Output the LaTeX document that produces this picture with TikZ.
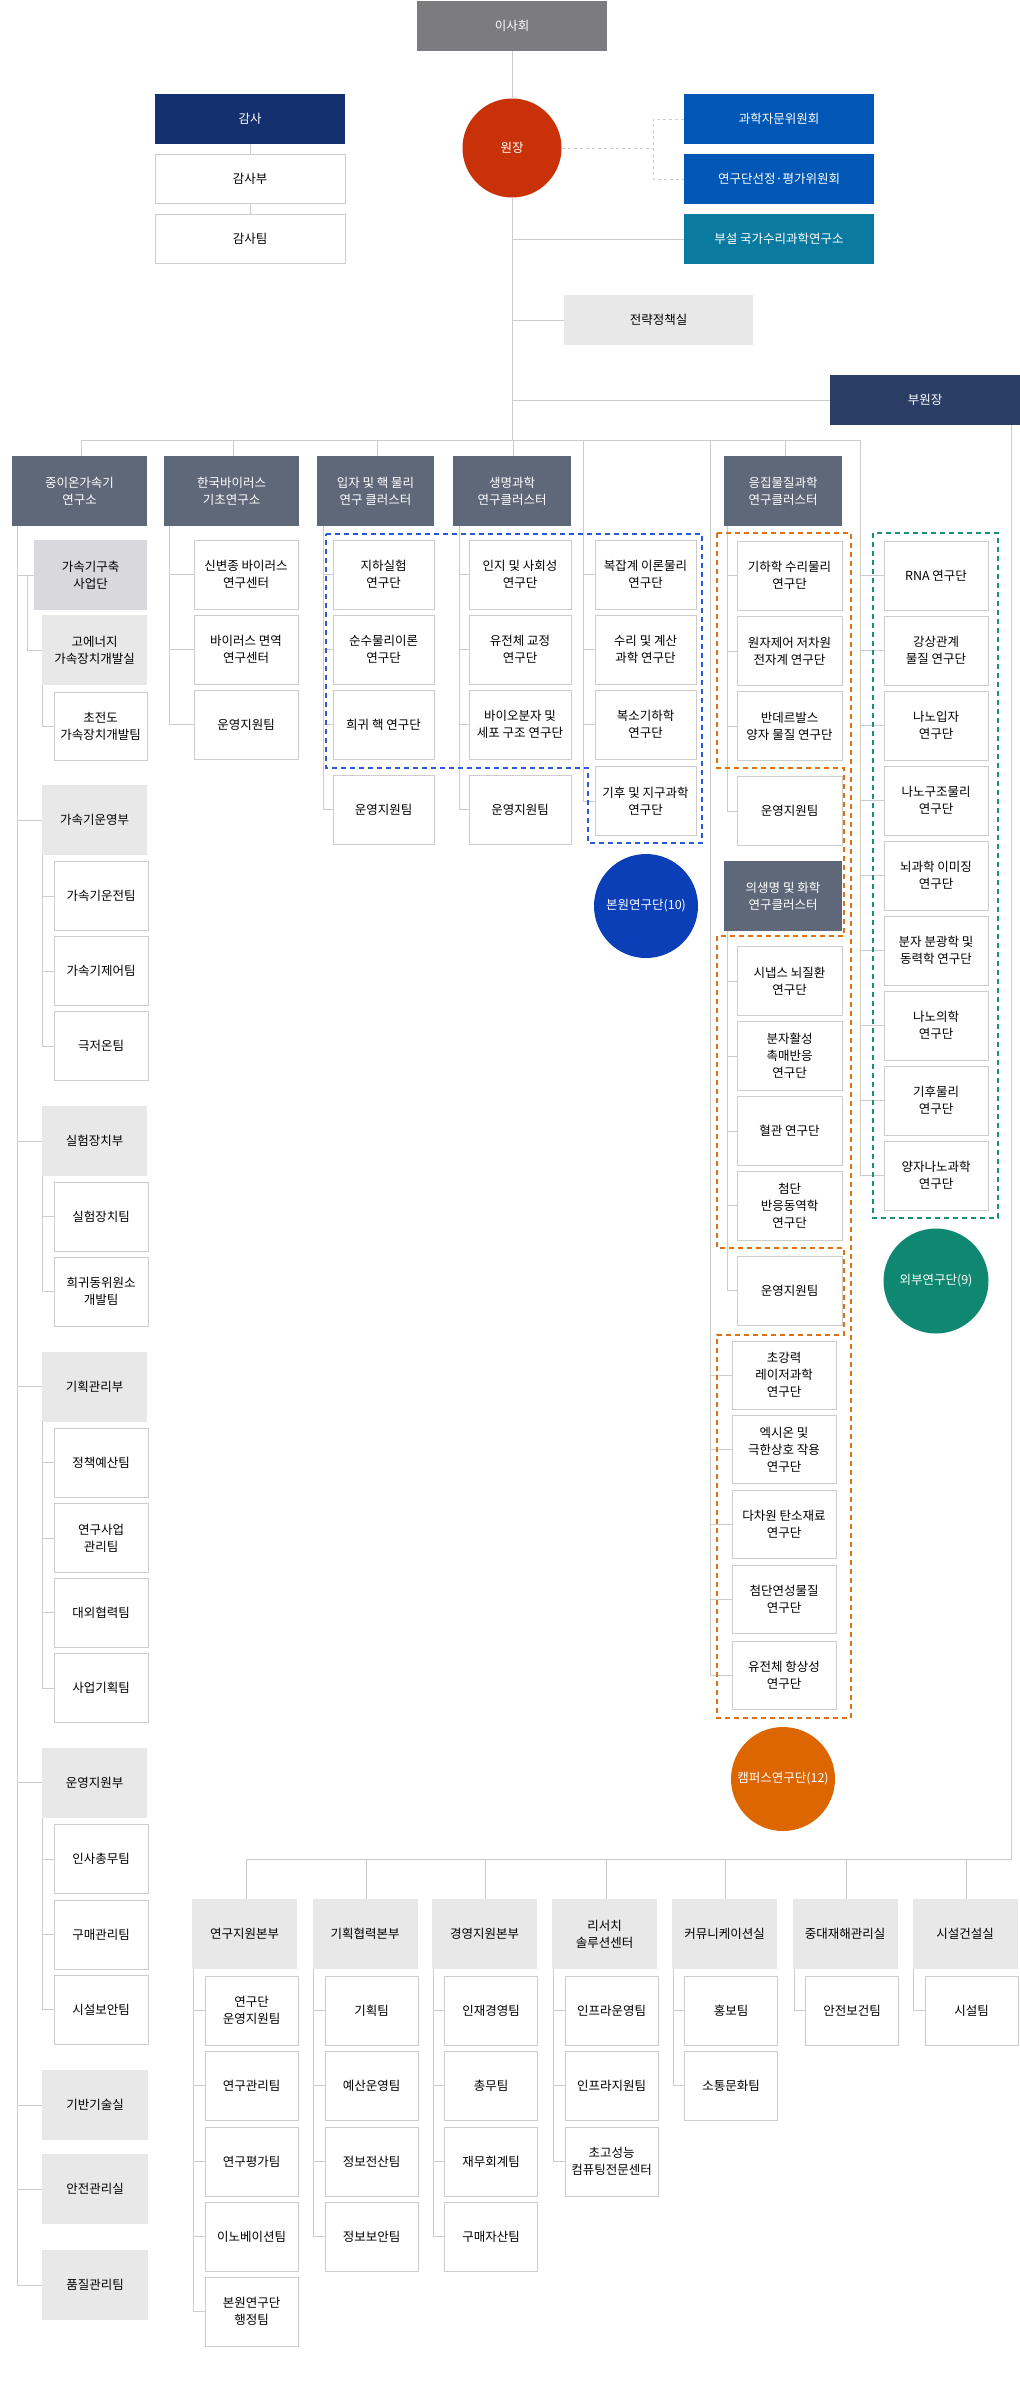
\documentclass[tikz,border=0pt]{standalone}
\usepackage{fontspec}
\setmainfont{Noto Sans CJK KR}
\usetikzlibrary{backgrounds}
\definecolor{lg}{HTML}{CCCCCC}
\definecolor{bc}{HTML}{CDCDCD}
\definecolor{hdc}{HTML}{5F6878}
\definecolor{lgc}{HTML}{E8E8E8}
\definecolor{kgc}{HTML}{D9D9DD}
\definecolor{boardc}{HTML}{7B7B80}
\definecolor{pres}{HTML}{C93208}
\definecolor{audc}{HTML}{14306E}
\definecolor{comc}{HTML}{0057B5}
\definecolor{tealc}{HTML}{0A7AA0}
\definecolor{vpc}{HTML}{2B3F66}
\definecolor{bluec}{HTML}{2A5BD7}
\definecolor{orc}{HTML}{E07010}
\definecolor{grc}{HTML}{1A9079}
\definecolor{blf}{HTML}{0A3FB8}
\definecolor{orf}{HTML}{DD6600}
\definecolor{grf}{HTML}{0E8870}
\begin{document}
\begin{tikzpicture}[x=1pt,y=-1pt,
  every node/.style={font=\fontsize{12.5}{17}\selectfont, align=center, inner sep=0pt},
  sz/.style 2 args={minimum width=#1pt, minimum height=#2pt},
  ln/.style={draw=lg, line width=1pt},
  box/.style={draw=bc, line width=1pt, fill=white},
  hd/.style={fill=hdc, text=white},
  gb/.style={fill=lgc},
  dsh/.style={line width=1.6pt, dash pattern=on 5pt off 4pt}]
\useasboundingbox (0,0) rectangle (1020,2386);
% top
\node[fill=boardc, text=white, sz={190}{50}] (board) at (512,26) {이사회};
\node[circle, fill=pres, text=white, minimum size=99pt] (pres) at (512,148) {원장};
\node[fill=audc, text=white, sz={190}{50}] (aud) at (250,119) {감사};
\node[box, sz={190}{49}] (audb) at (250,178.5) {감사부};
\node[box, sz={190}{49}] (audt) at (250,238.5) {감사팀};
\node[fill=comc, text=white, sz={190}{50}] (com1) at (779,119) {과학자문위원회};
\node[fill=comc, text=white, sz={190}{50}] (com2) at (779,179) {연구단선정·평가위원회};
\node[fill=tealc, text=white, sz={190}{50}] (nims) at (779,239) {부설 국가수리과학연구소};
\node[gb, sz={189}{50}] (strat) at (658.5,320) {전략정책실};
\node[fill=vpc, text=white, sz={190}{50}] (vp) at (925,400) {부원장};
% row headers
\node[hd, sz={135}{70}] (h1) at (79.5,491) {중이온가속기\\연구소};
\node[hd, sz={135}{70}] (h2) at (231.5,491) {한국바이러스\\기초연구소};
\node[hd, sz={117}{70}] (h3) at (375.5,491) {입자 및 핵 물리\\연구 클러스터};
\node[hd, sz={118}{70}] (h4) at (512,491) {생명과학\\연구클러스터};
\node[hd, sz={118}{70}] (h6) at (783,491) {응집물질과학\\연구클러스터};
\node[hd, sz={118}{70}] (h7) at (783,896) {의생명 및 화학\\연구클러스터};
\coordinate (busL) at (81,440); \coordinate (busR) at (860,440);
\coordinate (c5) at (583,440); \coordinate (c6) at (710,440); \coordinate (c8) at (860,440);
% dashed groups
\draw[bluec, dsh] (326,534) -- (702,534) -- (702,843) -- (588,843) -- (588,768) -- (326,768) -- cycle;
\draw[orc, dsh] (717,533) -- (851,533) -- (851,1718) -- (717,1718) -- (717,1335) -- (844,1335) -- (844,1248) -- (717,1248) -- (717,936) -- (844,936) -- (844,768) -- (717,768) -- cycle;
\draw[grc, dsh] (873,533) rectangle (998,1218);
% column 1
\node[fill=kgc, sz={113}{70}] (k1) at (90.5,575) {가속기구축\\사업단};
\node[gb, sz={105}{70}] (k2) at (94.5,650) {고에너지\\가속장치개발실};
\node[box, sz={93}{68}] (k3) at (100.5,726) {초전도\\가속장치개발팀};
\node[gb, sz={105}{70}] (d1) at (94.5,820) {가속기운영부};
\node[box, sz={94}{69}] (t11) at (101,896) {가속기운전팀};
\node[box, sz={94}{69}] (t12) at (101,971) {가속기제어팀};
\node[box, sz={94}{69}] (t13) at (101,1046) {극저온팀};
\node[gb, sz={105}{70}] (d2) at (94.5,1141) {실험장치부};
\node[box, sz={94}{69}] (t21) at (101,1216.5) {실험장치팀};
\node[box, sz={94}{69}] (t22) at (101,1291.5) {희귀동위원소\\개발팀};
\node[gb, sz={105}{70}] (d3) at (94.5,1386.5) {기획관리부};
\node[box, sz={94}{69}] (t31) at (101,1462.5) {정책예산팀};
\node[box, sz={94}{69}] (t32) at (101,1538) {연구사업\\관리팀};
\node[box, sz={94}{69}] (t33) at (101,1612.5) {대외협력팀};
\node[box, sz={94}{69}] (t34) at (101,1688) {사업기획팀};
\node[gb, sz={105}{70}] (d4) at (94.5,1782.5) {운영지원부};
\node[box, sz={94}{69}] (t41) at (101,1859) {인사총무팀};
\node[box, sz={94}{69}] (t42) at (101,1934.5) {구매관리팀};
\node[box, sz={94}{69}] (t43) at (101,2009.5) {시설보안팀};
\node[gb, sz={106}{70}] (d5) at (95,2105) {기반기술실};
\node[gb, sz={106}{70}] (d6) at (95,2189) {안전관리실};
\node[gb, sz={106}{70}] (d7) at (95,2285) {품질관리팀};
% column 2
\node[box, sz={104}{69}] (v1) at (246,574.5) {신변종 바이러스\\연구센터};
\node[box, sz={104}{69}] (v2) at (246,649.5) {바이러스 면역\\연구센터};
\node[box, sz={104}{69}] (v3) at (246,724.5) {운영지원팀};
% column 3
\node[box, sz={101}{69}] (p1) at (383.5,574.5) {지하실험\\연구단};
\node[box, sz={101}{69}] (p2) at (383.5,649.5) {순수물리이론\\연구단};
\node[box, sz={101}{69}] (p3) at (383.5,724.5) {희귀 핵 연구단};
\node[box, sz={101}{69}] (p4) at (383.5,809.5) {운영지원팀};
% column 4
\node[box, sz={102}{69}] (b1) at (520,574.5) {인지 및 사회성\\연구단};
\node[box, sz={102}{69}] (b2) at (520,649.5) {유전체 교정\\연구단};
\node[box, sz={102}{69}] (b3) at (520,724.5) {바이오분자 및\\세포 구조 연구단};
\node[box, sz={102}{69}] (b4) at (520,809.5) {운영지원팀};
% column 5
\node[box, sz={101}{69}] (m1) at (645.5,574.5) {복잡계 이론물리\\연구단};
\node[box, sz={101}{69}] (m2) at (645.5,649.5) {수리 및 계산\\과학 연구단};
\node[box, sz={101}{69}] (m3) at (645.5,724.5) {복소기하학\\연구단};
\node[box, sz={101}{69}] (m4) at (645.5,801) {기후 및 지구과학\\연구단};
\node[circle, fill=blf, text=white, minimum size=104pt] (e1) at (646,906) {본원연구단(10)};
% column 6
\node[box, sz={105}{69}] (q1) at (789.5,575.5) {기하학 수리물리\\연구단};
\node[box, sz={105}{69}] (q2) at (789.5,651) {원자제어 저차원\\전자계 연구단};
\node[box, sz={105}{69}] (q3) at (789.5,726) {반데르발스\\양자 물질 연구단};
\node[box, sz={105}{69}] (q4) at (789.5,811) {운영지원팀};
\node[box, sz={105}{69}] (r1) at (789.5,981) {시냅스 뇌질환\\연구단};
\node[box, sz={105}{69}] (r2) at (789.5,1056) {분자활성\\촉매반응\\연구단};
\node[box, sz={105}{69}] (r3) at (789.5,1131) {혈관 연구단};
\node[box, sz={105}{69}] (r4) at (789.5,1205.5) {첨단\\반응동역학\\연구단};
\node[box, sz={105}{69}] (r5) at (789.5,1290.5) {운영지원팀};
\node[box, sz={104}{68}] (s1) at (784,1375) {초강력\\레이저과학\\연구단};
\node[box, sz={104}{68}] (s2) at (784,1449.5) {엑시온 및\\극한상호 작용\\연구단};
\node[box, sz={104}{68}] (s3) at (784,1524.5) {다차원 탄소재료\\연구단};
\node[box, sz={104}{68}] (s4) at (784,1599.5) {첨단연성물질\\연구단};
\node[box, sz={104}{68}] (s5) at (784,1675) {유전체 항상성\\연구단};
\node[circle, fill=orf, text=white, minimum size=104pt] (e3) at (783,1779) {캠퍼스연구단(12)};
% external
\node[box, sz={104}{69}] (x1) at (936,575.5) {RNA 연구단};
\node[box, sz={104}{69}] (x2) at (936,650.5) {강상관계\\물질 연구단};
\node[box, sz={104}{69}] (x3) at (936,725.5) {나노입자\\연구단};
\node[box, sz={104}{69}] (x4) at (936,800.5) {나노구조물리\\연구단};
\node[box, sz={104}{69}] (x5) at (936,875.5) {뇌과학 이미징\\연구단};
\node[box, sz={104}{69}] (x6) at (936,950.5) {분자 분광학 및\\동력학 연구단};
\node[box, sz={104}{69}] (x7) at (936,1025.5) {나노의학\\연구단};
\node[box, sz={104}{69}] (x8) at (936,1100.5) {기후물리\\연구단};
\node[box, sz={104}{69}] (x9) at (936,1175.5) {양자나노과학\\연구단};
\node[circle, fill=grf, text=white, minimum size=105pt] (e2) at (936,1281) {외부연구단(9)};
% bottom
\node[gb, sz={105}{70}] (a1) at (244.5,1934) {연구지원본부};
\node[gb, sz={105}{70}] (a2) at (365,1934) {기획협력본부};
\node[gb, sz={105}{70}] (a3) at (484.5,1934) {경영지원본부};
\node[gb, sz={105}{70}] (a4) at (604.5,1934) {리서치\\솔루션센터};
\node[gb, sz={105}{70}] (a5) at (724.5,1934) {커뮤니케이션실};
\node[gb, sz={105}{70}] (a6) at (845,1934) {중대재해관리실};
\node[gb, sz={105}{70}] (a7) at (965,1934) {시설건설실};
\node[box, sz={93}{69}] (a11) at (251.5,2010.5) {연구단\\운영지원팀};
\node[box, sz={93}{69}] (a12) at (251.5,2085.5) {연구관리팀};
\node[box, sz={93}{69}] (a13) at (251.5,2161.5) {연구평가팀};
\node[box, sz={93}{69}] (a14) at (251.5,2236.5) {이노베이션팀};
\node[box, sz={93}{69}] (a15) at (251.5,2311.5) {본원연구단\\행정팀};
\node[box, sz={93}{69}] (a21) at (371.5,2010.5) {기획팀};
\node[box, sz={93}{69}] (a22) at (371.5,2085.5) {예산운영팀};
\node[box, sz={93}{69}] (a23) at (371.5,2161.5) {정보전산팀};
\node[box, sz={93}{69}] (a24) at (371.5,2236.5) {정보보안팀};
\node[box, sz={93}{69}] (a31) at (491,2010.5) {인재경영팀};
\node[box, sz={93}{69}] (a32) at (491,2085.5) {총무팀};
\node[box, sz={93}{69}] (a33) at (491,2161.5) {재무회계팀};
\node[box, sz={93}{69}] (a34) at (491,2236.5) {구매자산팀};
\node[box, sz={93}{69}] (a41) at (611.5,2010.5) {인프라운영팀};
\node[box, sz={93}{69}] (a42) at (611.5,2085.5) {인프라지원팀};
\node[box, sz={93}{69}] (a43) at (611.5,2161.5) {초고성능\\컴퓨팅전문센터};
\node[box, sz={93}{69}] (a51) at (731,2010.5) {홍보팀};
\node[box, sz={93}{69}] (a52) at (731,2085.5) {소통문화팀};
\node[box, sz={93}{69}] (a61) at (852,2010.5) {안전보건팀};
\node[box, sz={93}{69}] (a71) at (971.5,2010.5) {시설팀};
\coordinate (bbL) at (246,1859); \coordinate (bbR) at (1011,1859);
% connectors
\begin{scope}[on background layer]
\draw[ln] (board) -- (pres);
\draw[ln] (pres.south) -- (pres.south |- busL);
\draw[ln] (busL) -- (busR);
\draw[ln] (aud) -- (audb) -- (audt);
\draw[ln, dashed] (pres.east) -- (653,148) coordinate (dj);
\draw[ln, dashed] (com1.west) -| (dj) |- (com2.west);
\draw[ln] (nims.west) -- (nims.west -| pres.south);
\draw[ln] (strat.west) -- (strat.west -| pres.south);
\draw[ln] (vp.west) -- (vp.west -| pres.south);
\draw[ln] ([xshift=-9pt]vp.south east) -- ([xshift=-9pt]vp.south east |- bbR) -- (bbL);
\foreach \h/\xx in {h1/81,h2/233,h3/377,h4/513,h6/785} \draw[ln] (\h.north -| \xx,0) -- (\xx,440);
\foreach \h/\xx in {a1/246,a2/366,a3/485,a4/606,a5/725,a6/846,a7/966} \draw[ln] (\h.north -| \xx,0) -- (\xx,1859);
% col1
\draw[ln] (17,526) -- (17,2285);
\foreach \n in {k1,d1,d2,d3,d4,d5,d6,d7} \draw[ln] (\n.west) -- (\n.west -| 17,0);
\draw[ln] (27,575) |- (k2.west);
\draw[ln] (42,685) |- (k3.west);
\draw[ln] (42,855) -- (42,1046);
\draw[ln] (42,1176) -- (42,1291.5);
\draw[ln] (42,1421) -- (42,1688);
\draw[ln] (42,1817) -- (42,2009.5);
\foreach \n in {t11,t12,t13,t21,t22,t31,t32,t33,t34,t41,t42,t43} \draw[ln] (\n.west) -- (\n.west -| 42,0);
\draw[ln] (169,526) -- (169,724.5);
\foreach \n in {v1,v2,v3} \draw[ln] (\n.west) -- (\n.west -| 169,0);
\draw[ln] (323,526) -- (323,809.5);
\foreach \n in {p1,p2,p3,p4} \draw[ln] (\n.west) -- (\n.west -| 323,0);
\draw[ln] (459,526) -- (459,809.5);
\foreach \n in {b1,b2,b3,b4} \draw[ln] (\n.west) -- (\n.west -| 459,0);
\draw[ln] (c5) -- (583,801);
\foreach \n in {m1,m2,m3,m4} \draw[ln] (\n.west) -- (\n.west -| 583,0);
\draw[ln] (727,526) -- (727,811);
\foreach \n in {q1,q2,q3,q4} \draw[ln] (\n.west) -- (\n.west -| 727,0);
\draw[ln] (727,931) -- (727,1290.5);
\foreach \n in {r1,r2,r3,r4,r5} \draw[ln] (\n.west) -- (\n.west -| 727,0);
\draw[ln] (c6) -- (710,1675);
\foreach \n in {s1,s2,s3,s4,s5} \draw[ln] (\n.west) -- (\n.west -| 710,0);
\draw[ln] (c8) -- (860,1175.5);
\foreach \n in {x1,x2,x3,x4,x5,x6,x7,x8,x9} \draw[ln] (\n.west) -- (\n.west -| 860,0);
\draw[ln] (193,1969) -- (193,2311.5);
\foreach \n in {a11,a12,a13,a14,a15} \draw[ln] (\n.west) -- (\n.west -| 193,0);
\draw[ln] (313,1969) -- (313,2236.5);
\foreach \n in {a21,a22,a23,a24} \draw[ln] (\n.west) -- (\n.west -| 313,0);
\draw[ln] (433,1969) -- (433,2236.5);
\foreach \n in {a31,a32,a33,a34} \draw[ln] (\n.west) -- (\n.west -| 433,0);
\draw[ln] (553,1969) -- (553,2161.5);
\foreach \n in {a41,a42,a43} \draw[ln] (\n.west) -- (\n.west -| 553,0);
\draw[ln] (673,1969) -- (673,2085.5);
\foreach \n in {a51,a52} \draw[ln] (\n.west) -- (\n.west -| 673,0);
\draw[ln] (794,1969) -- (794,2010.5) -- (a61.west);
\draw[ln] (913,1969) -- (913,2010.5) -- (a71.west);
\end{scope}
\end{tikzpicture}
\end{document}
